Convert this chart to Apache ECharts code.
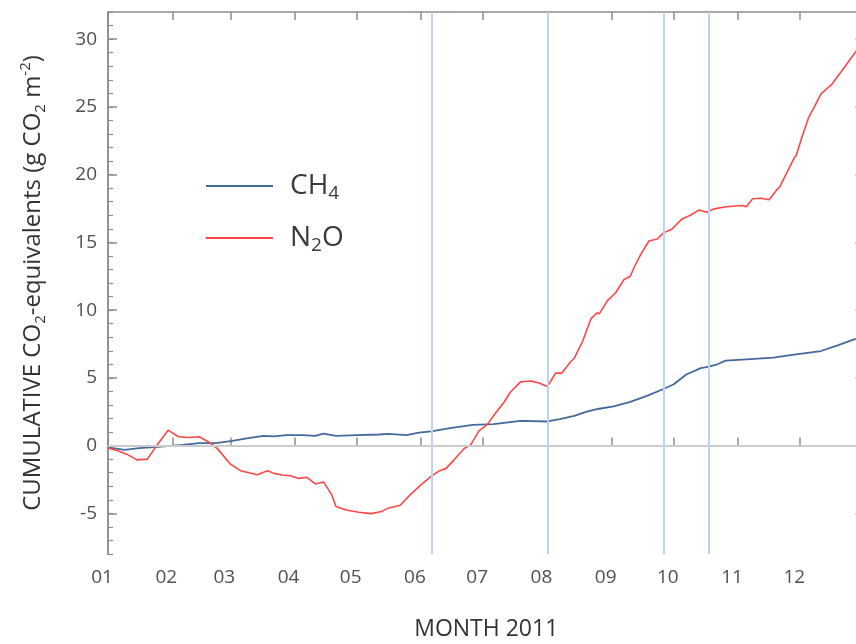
<!DOCTYPE html>
<html>
<head>
<meta charset="utf-8">
<script src="https://cdn.jsdelivr.net/npm/echarts@6/dist/echarts.min.js"></script>
<style>
  html, body { margin: 0; padding: 0; background: #ffffff; }
  #chart { width: 856px; height: 644px; }
</style>
</head>
<body>
<div id="chart"></div>
<script>
// Cumulative greenhouse-gas balance, 2011 (day 0 = 1 January)
const n2oDays = [0, 5, 9, 14, 19, 24, 29, 34, 39, 44, 49, 53, 59, 64, 68, 72, 77, 80, 84, 88,
  92, 96, 100, 104, 108, 110, 115, 121, 127, 132, 135, 141, 146, 151, 156, 160, 163, 167, 172, 175,
  179, 183, 187, 191, 194, 199, 204, 208, 212, 216, 219, 223, 225, 229, 233, 236, 237, 241, 245, 249,
  252, 254, 257, 261, 265, 268, 272, 277, 281, 285, 289, 292, 298, 306, 308, 311, 315, 319, 323, 324,
  328, 331, 332, 335, 338, 341, 344, 349, 354, 360, 364];
const n2oValues = [-0.18, -0.4, -0.63, -1.05, -1.0, 0.1, 1.14, 0.65, 0.6, 0.65, 0.23, -0.26, -1.36, -1.85, -2.0, -2.15, -1.85, -2.05, -2.17, -2.22,
  -2.42, -2.34, -2.83, -2.68, -3.64, -4.5, -4.75, -4.92, -5.02, -4.87, -4.63, -4.4, -3.6, -2.9, -2.25, -1.85, -1.7, -1.05, -0.2, 0.05,
  1.09, 1.55, 2.4, 3.18, 3.92, 4.7, 4.77, 4.62, 4.36, 5.35, 5.35, 6.15, 6.45, 7.7, 9.35, 9.8, 9.72, 10.7, 11.3, 12.26,
  12.5, 13.2, 14.1, 15.1, 15.25, 15.7, 15.97, 16.73, 17.0, 17.38, 17.22, 17.45, 17.63, 17.72, 17.62, 18.22, 18.25, 18.15, 18.94, 19.06,
  20.3, 21.2, 21.39, 22.85, 24.2, 25.05, 25.96, 26.62, 27.65, 28.9, 29.7];

const ch4Days = [0, 8, 15, 24, 36, 44, 52, 60, 67, 75, 80, 86, 94, 100, 104, 110, 120, 131, 135, 144,
  150, 156, 165, 176, 186, 199, 212, 218, 225, 231, 237, 244, 252, 260, 268, 273, 279, 286, 290, 294,
  298, 308, 321, 331, 344, 352, 360, 364];
const ch4Values = [-0.13, -0.31, -0.18, -0.09, 0.06, 0.18, 0.18, 0.35, 0.53, 0.72, 0.68, 0.77, 0.78, 0.72, 0.88, 0.72, 0.77, 0.82, 0.86, 0.77,
  0.95, 1.05, 1.29, 1.53, 1.58, 1.83, 1.78, 1.95, 2.2, 2.5, 2.72, 2.89, 3.23, 3.67, 4.18, 4.53, 5.25, 5.72, 5.83, 6.0,
  6.27, 6.37, 6.49, 6.71, 6.98, 7.4, 7.84, 8.02];

// Sampling campaign dates, drawn as vertical guide lines
const markerDays = [156, 212, 268, 290];

// Value range of the y axis and the labelled step
const yMin = -8;
const yMax = 32;
const yLabelStep = 5;

const FONT = '"Open Sans", "Noto Sans", sans-serif';
const AXIS_GREY = '#8c8c8c';

function dayToTime(d) {
  return new Date(2011, 0, 1 + d).getTime();
}
function pairs(days, values) {
  return days.map((d, i) => [dayToTime(d), values[i]]);
}

const yCategories = [];
for (let v = yMin; v <= yMax; v++) yCategories.push(String(v));
const isLabelled = (idx, val) => Number(val) % yLabelStep === 0;

const chart = echarts.init(document.getElementById('chart'), null, { renderer: 'canvas' });

const monthAxisBase = {
  type: 'time',
  min: dayToTime(0),
  max: dayToTime(365),
  minInterval: 27 * 86400000,
  maxInterval: 31 * 86400000,
  splitNumber: 12,
  axisLine: { show: true, lineStyle: { color: AXIS_GREY, width: 1.5 } },
  axisTick: { show: true, inside: true, length: 8, lineStyle: { color: AXIS_GREY, width: 1.5 } },
  splitLine: { show: false },
  minorTick: { show: false }
};

const option = {
  animation: false,
  backgroundColor: '#ffffff',
  // the plot runs on past the right edge of the canvas (to 1 Jan 2012)
  grid: {
    left: 108, top: 12, width: 756.5, height: 542,
    containLabel: false,
    outerBoundsMode: 'none'
  },
  legend: {
    orient: 'vertical',
    left: 206,
    top: 172,
    padding: 0,
    itemGap: 21,
    itemWidth: 67,
    itemHeight: 2,
    icon: 'rect',
    selectedMode: false,
    data: ['CH4', 'N2O'],
    formatter: function (name) {
      return name === 'CH4' ? '{sp|}{t|CH}{s|4}' : '{sp|}{t|N}{s|2}{t|O}';
    },
    textStyle: {
      rich: {
        sp: { width: 12 },
        t: { fontFamily: FONT, fontSize: 28, lineHeight: 34, color: '#3a3a3a' },
        s: { fontFamily: FONT, fontSize: 19, lineHeight: 10, verticalAlign: 'bottom', color: '#3a3a3a' }
      }
    }
  },
  xAxis: [
    Object.assign({}, monthAxisBase, {
      position: 'bottom',
      name: 'MONTH 2011',
      nameLocation: 'middle',
      nameGap: 64,
      nameTextStyle: { fontFamily: FONT, fontSize: 23, color: '#333333' },
      axisLabel: {
        show: true,
        showMinLabel: true,
        showMaxLabel: false,
        fontFamily: FONT,
        fontSize: 19,
        color: '#505050',
        margin: 14,
        padding: [0, 12, 0, 0],
        formatter: function (value) {
          const d = new Date(value);
          if (d.getFullYear() !== 2011) return '';
          return String(d.getMonth() + 1).padStart(2, '0');
        }
      }
    }),
    Object.assign({}, monthAxisBase, {
      position: 'top',
      axisLabel: { show: false }
    })
  ],
  yAxis: [
    {
      type: 'value',
      min: yMin,
      max: yMax,
      interval: 1,
      position: 'left',
      axisLine: { show: true, lineStyle: { color: AXIS_GREY, width: 1.5 } },
      axisTick: { show: true, inside: true, length: 5, lineStyle: { color: AXIS_GREY, width: 1.2 } },
      axisLabel: { show: false },
      splitLine: { show: false }
    },
    {
      type: 'category',
      data: yCategories,
      boundaryGap: false,
      position: 'left',
      axisLine: { show: true, lineStyle: { color: AXIS_GREY, width: 1.5 } },
      axisTick: { show: true, inside: true, length: 9, interval: isLabelled, lineStyle: { color: AXIS_GREY, width: 1.5 } },
      axisLabel: {
        show: true,
        interval: isLabelled,
        fontFamily: FONT,
        fontSize: 19,
        color: '#505050',
        margin: 11
      },
      splitLine: { show: false },
      name: '{t|CUMULATIVE CO}{s|2}{t|-equivalents (g CO}{s|2}{t| m}{p|-2}{t|)}',
      nameLocation: 'middle',
      nameGap: 60,
      nameRotate: 90,
      nameTextStyle: {
        rich: {
          t: { fontFamily: FONT, fontSize: 24, lineHeight: 30, color: '#333333' },
          s: { fontFamily: FONT, fontSize: 15, lineHeight: 13, verticalAlign: 'bottom', color: '#333333' },
          p: { fontFamily: FONT, fontSize: 15, lineHeight: 15, verticalAlign: 'top', color: '#333333' }
        }
      }
    },
    {
      type: 'category',
      data: yCategories,
      boundaryGap: false,
      position: 'right',
      axisLine: { show: true, lineStyle: { color: AXIS_GREY, width: 1.5 } },
      axisTick: { show: true, inside: true, length: 9, interval: isLabelled, lineStyle: { color: AXIS_GREY, width: 1.5 } },
      axisLabel: { show: false },
      splitLine: { show: false }
    }
  ],
  series: [
    {
      name: 'guides',
      type: 'line',
      xAxisIndex: 0,
      yAxisIndex: 0,
      data: [],
      z: 1,
      silent: true,
      markLine: {
        silent: true,
        symbol: ['none', 'none'],
        label: { show: false },
        emphasis: { disabled: true },
        data: [
          { yAxis: 0, lineStyle: { color: '#cccccc', width: 2, type: 'solid' } }
        ].concat(markerDays.map(d => ({
          xAxis: dayToTime(d),
          lineStyle: { color: '#b9d5f5', width: 2, type: 'solid' }
        })))
      }
    },
    {
      name: 'CH4',
      type: 'line',
      xAxisIndex: 0,
      yAxisIndex: 0,
      data: pairs(ch4Days, ch4Values),
      showSymbol: false,
      symbol: 'none',
      smooth: false,
      z: 3,
      color: '#44699c',
      lineStyle: { color: '#44699c', width: 1.8 }
    },
    {
      name: 'N2O',
      type: 'line',
      xAxisIndex: 0,
      yAxisIndex: 0,
      data: pairs(n2oDays, n2oValues),
      showSymbol: false,
      symbol: 'none',
      smooth: false,
      z: 4,
      color: '#ff4646',
      lineStyle: { color: '#ff4646', width: 1.6 }
    }
  ]
};

chart.setOption(option);
</script>
</body>
</html>
